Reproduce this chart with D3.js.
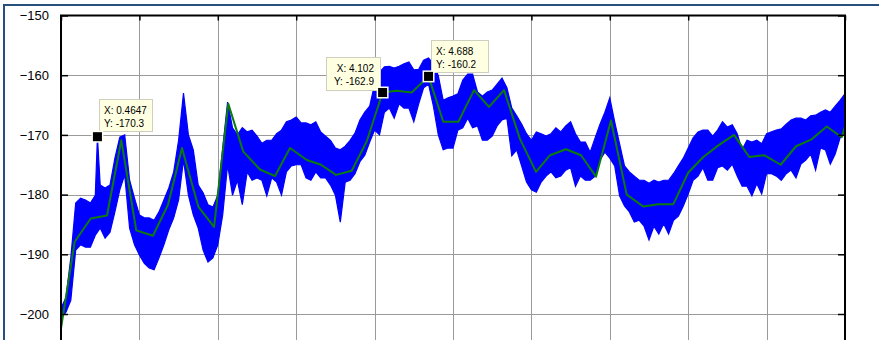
<!DOCTYPE html>
<html>
<head>
<meta charset="utf-8">
<script src="https://cdn.jsdelivr.net/npm/d3@7/dist/d3.min.js"></script>
<style>
  html, body { margin: 0; padding: 0; background: #fff; }
  svg { display: block; }
  text { font-family: "Liberation Sans", Arial, Helvetica, sans-serif; }
</style>
</head>
<body>
<svg id="chart" width="879" height="340"></svg>
<script>
// Axis ticks
const xTicks = [0, 1, 2, 3, 4, 5, 6, 7, 8, 9, 10];
const yTicks = [-150, -160, -170, -180, -190, -200];
const yDomain = [-210, -150];

// Raw spectrum: upper and lower excursion of the noisy trace per sample bin
const rawStep = 0.0625;
const rawHi = [
  -199.0, -197.3, -190.6, -181.4, -180.6, -180.9, -181.4, -180.1, -178.4, -178.9,
  -178.4, -173.9, -170.4, -170.0, -177.6, -180.6, -183.4, -183.9, -183.9, -184.3,
  -182.9, -180.9, -178.9, -176.2, -170.9, -163.0, -170.0, -172.5, -178.4, -179.7,
  -181.7, -182.1, -180.1, -172.2, -164.5, -168.8, -170.0, -168.8, -169.5, -169.2,
  -170.2, -171.4, -170.9, -170.9, -169.8, -169.2, -167.8, -167.5, -167.0, -168.0,
  -168.0, -168.3, -167.8, -169.5, -170.2, -170.9, -172.2, -172.5, -171.9, -170.9,
  -169.7, -167.5, -166.2, -165.2, -161.5, -159.5, -158.6, -158.5, -158.8, -158.5,
  -158.1, -157.8, -159.1, -159.0, -157.5, -157.1, -158.1, -160.1, -164.2, -163.8,
  -163.5, -163.1, -160.8, -159.8, -159.8, -162.8, -163.5, -162.8, -162.5, -161.5,
  -160.5, -162.1, -165.5, -166.8, -168.2, -169.8, -170.9, -169.5, -169.8, -170.2,
  -169.8, -168.8, -169.5, -168.5, -167.8, -169.8, -171.2, -171.2, -172.9, -170.5,
  -168.2, -166.2, -163.8, -167.8, -171.5, -175.2, -176.2, -176.9, -177.6, -177.6,
  -178.1, -177.6, -177.9, -177.6, -177.6, -176.5, -175.2, -173.9, -172.2, -170.5,
  -169.5, -169.2, -169.2, -170.2, -169.2, -167.8, -168.7, -168.3, -169.8, -172.5,
  -170.9, -171.2, -170.9, -171.5, -169.8, -169.5, -169.2, -169.0, -168.2, -167.5,
  -167.2, -167.2, -167.5, -166.8, -166.7, -166.2, -165.8, -166.2, -165.2, -164.2,
  -163.1
];
const rawLo = [
  -200.7, -199.7, -197.7, -189.3, -188.4, -188.8, -188.8, -186.8, -185.6, -187.3,
  -186.3, -182.9, -179.2, -176.7, -185.6, -188.4, -190.1, -191.5, -192.3, -192.6,
  -190.6, -188.4, -185.9, -183.9, -180.9, -174.2, -180.1, -183.4, -185.6, -189.3,
  -191.3, -190.6, -188.4, -183.4, -175.0, -180.1, -177.6, -181.7, -176.2, -177.6,
  -177.2, -177.6, -180.2, -177.2, -177.9, -180.1, -176.2, -175.2, -175.0, -175.0,
  -177.2, -177.6, -176.2, -177.2, -177.2, -178.4, -180.1, -184.6, -177.9, -177.6,
  -176.5, -174.5, -173.4, -171.2, -169.2, -170.0, -166.2, -165.5, -167.2, -164.8,
  -165.5, -165.5, -167.8, -164.8, -162.1, -161.5, -165.2, -170.0, -172.5, -172.2,
  -172.2, -169.2, -168.8, -167.2, -168.8, -168.5, -170.9, -170.9, -170.2, -168.5,
  -167.5, -167.2, -173.5, -172.5, -175.2, -177.9, -179.2, -179.6, -177.9, -176.9,
  -176.2, -177.2, -176.9, -175.9, -175.5, -178.6, -176.9, -177.6, -177.6, -176.9,
  -174.2, -172.9, -173.9, -175.2, -180.2, -181.9, -182.9, -184.6, -184.3, -185.3,
  -187.6, -185.3, -186.6, -184.9, -186.6, -184.3, -183.6, -181.9, -179.9, -177.6,
  -176.9, -175.5, -177.6, -177.6, -175.5, -175.2, -175.9, -174.9, -176.9, -178.6,
  -178.6, -180.2, -178.2, -179.9, -176.5, -176.5, -176.9, -177.6, -176.5, -175.9,
  -177.2, -174.9, -174.2, -173.2, -175.9, -172.2, -172.5, -174.9, -173.2, -170.5,
  -169.5
];
// Isolated spike picked out by the first data tip
const spikeX = [0.4647];
const spikeHi = [-170.3];
const spikeLo = [-186.3];

// Smoothed trace
const smoothX = [
  0.000, 0.175, 0.379, 0.587, 0.769, 0.960, 1.173, 1.365, 1.543, 1.751,
  1.952, 2.134, 2.325, 2.538, 2.730, 2.921, 3.134, 3.316, 3.508, 3.708,
  3.899, 4.102, 4.282, 4.473, 4.688, 4.876, 5.068, 5.268, 5.459, 5.651,
  5.855, 6.059, 6.237, 6.441, 6.633, 6.824, 7.015, 7.216, 7.427, 7.619,
  7.810, 8.001, 8.193, 8.380, 8.584, 8.779, 8.967, 9.180, 9.375, 9.566,
  9.767, 9.958, 10.000
];
const smoothY = [
  -202.4, -187.9, -184.0, -183.5, -170.9, -186.0, -186.9, -181.7, -172.2, -182.0,
  -185.4, -164.8, -172.8, -175.8, -176.9, -172.2, -174.2, -175.0, -176.7, -176.0,
  -171.1, -162.9, -162.6, -162.9, -160.2, -167.8, -167.8, -162.5, -165.3, -162.5,
  -170.7, -176.2, -173.4, -172.4, -173.4, -177.0, -167.6, -180.0, -182.0, -181.6,
  -181.6, -176.3, -173.7, -171.8, -170.0, -173.7, -173.4, -175.0, -171.9, -170.8,
  -168.6, -170.4, -168.6
];

// Data tips
const tipX = [0.4647, 4.102, 4.688];
const tipY = [-170.3, -162.9, -160.2];

const svg = d3.select("#chart");
const W = 879, H = 340;
const plot = { left: 61, right: 845, top: 15.5 };
const pxPerUnitY = 5.97;

const x = d3.scaleLinear().domain([0, 10]).range([plot.left, plot.right]);
const y = d3.scaleLinear().domain(yDomain)
  .range([plot.top + (yDomain[1] - yDomain[0]) * pxPerUnitY, plot.top]);

// Outer figure frame
svg.append("rect")
  .attr("x", 4).attr("y", 5)
  .attr("width", W + 20).attr("height", H + 20)
  .attr("fill", "#fff")
  .attr("stroke", "#27507e").attr("stroke-width", 2);

const bottom = y(yDomain[0]);

svg.append("defs").append("clipPath").attr("id", "clip")
  .append("rect")
  .attr("x", plot.left).attr("y", plot.top)
  .attr("width", plot.right - plot.left).attr("height", bottom - plot.top);

// Grid
const grid = svg.append("g");
grid.selectAll("line.gx")
  .data(xTicks.filter(t => t > 0 && t < 10))
  .join("line")
  .attr("x1", d => Math.round(x(d)) + 0.5).attr("x2", d => Math.round(x(d)) + 0.5)
  .attr("y1", plot.top).attr("y2", bottom)
  .attr("stroke", "#9a9a9a").attr("stroke-width", 1);
grid.selectAll("line.gy")
  .data(yTicks.filter(t => t < -150))
  .join("line")
  .attr("x1", plot.left).attr("x2", plot.right)
  .attr("y1", d => Math.round(y(d)) + 0.5).attr("y2", d => Math.round(y(d)) + 0.5)
  .attr("stroke", "#9a9a9a").attr("stroke-width", 1);

// Traces
const raw = rawHi.map((h, i) => ({ x: i * rawStep, hi: h, lo: rawLo[i] }));
spikeX.forEach((sx, i) => raw.push({ x: sx, hi: spikeHi[i], lo: spikeLo[i] }));
raw.sort((a, b) => a.x - b.x);

const traces = svg.append("g").attr("clip-path", "url(#clip)");
traces.append("path")
  .datum(raw)
  .attr("d", d3.area().x(d => x(d.x)).y0(d => y(d.lo)).y1(d => y(d.hi)))
  .attr("fill", "#0000ff")
  .attr("stroke", "#0000ff").attr("stroke-width", 1.2)
  .attr("stroke-linejoin", "miter");

const smooth = smoothX.map((v, i) => ({ x: v, y: smoothY[i] }));
traces.append("path")
  .datum(smooth)
  .attr("d", d3.line().x(d => x(d.x)).y(d => y(d.y)))
  .attr("fill", "none")
  .attr("stroke", "#0b7c0b").attr("stroke-width", 2)
  .attr("stroke-linejoin", "round");

// Axes box and ticks
const axes = svg.append("g");
axes.append("path")
  .attr("d", `M${plot.left},${bottom + 5}V${plot.top}H${plot.right}V${bottom + 5}`)
  .attr("fill", "none").attr("stroke", "#000").attr("stroke-width", 2);

const yAxisL = d3.axisLeft(y).tickValues(yTicks).tickSize(-7).tickPadding(12)
  .tickFormat(d3.format("d"));
const gL = axes.append("g").attr("transform", `translate(${plot.left},0)`).call(yAxisL);
gL.select(".domain").remove();
gL.selectAll(".tick line").attr("stroke", "#000").attr("stroke-width", 1.5);
gL.selectAll(".tick text")
  .attr("font-size", 13).attr("fill", "#000")
  .attr("font-family", "'Liberation Sans', Arial, sans-serif");

const yAxisR = d3.axisRight(y).tickValues(yTicks).tickSize(-7).tickFormat("");
const gR = axes.append("g").attr("transform", `translate(${plot.right},0)`).call(yAxisR);
gR.select(".domain").remove();
gR.selectAll(".tick line").attr("stroke", "#000").attr("stroke-width", 1.5);

const xAxisT = d3.axisTop(x).tickValues(xTicks).tickSize(-5).tickFormat("");
const gT = axes.append("g").attr("transform", `translate(0,${plot.top})`).call(xAxisT);
gT.select(".domain").remove();
gT.selectAll(".tick line").attr("stroke", "#000").attr("stroke-width", 1.5);

// Data tips
const tipPlacement = [
  { side: "right", dx: 2, dy: -6, w: 53, h: 32 },
  { side: "left", dx: -3, dy: -3, w: 54, h: 33 },
  { side: "right", dx: 2, dy: -4, w: 57, h: 32 }
];
const tips = svg.append("g");
tipX.forEach((tx, i) => {
  const p = tipPlacement[i];
  const mx = x(tx), my = y(tipY[i]);
  const bx = p.side === "right" ? mx + p.dx : mx + p.dx - p.w;
  const by = my + p.dy - p.h;
  const g = tips.append("g");
  g.append("rect")
    .attr("x", Math.round(bx) + 0.5).attr("y", Math.round(by) + 0.5)
    .attr("width", p.w).attr("height", p.h)
    .attr("fill", "#ffffe1").attr("stroke", "#cfcfc0").attr("stroke-width", 1);
  const tx0 = p.side === "right" ? Math.round(bx) + 5 : Math.round(bx) + p.w - 6;
  const anchor = p.side === "right" ? "start" : "end";
  g.append("text")
    .attr("x", tx0).attr("y", Math.round(by) + 15)
    .attr("text-anchor", anchor).attr("font-size", 10).attr("fill", "#000")
    .text(`X: ${tx}`);
  g.append("text")
    .attr("x", tx0).attr("y", Math.round(by) + 28)
    .attr("text-anchor", anchor).attr("font-size", 10).attr("fill", "#000")
    .text(`Y: ${tipY[i]}`);
  g.append("rect")
    .attr("x", mx - 6).attr("y", my - 6).attr("width", 12).attr("height", 12)
    .attr("fill", "#fffff0");
  g.append("rect")
    .attr("x", mx - 4.5).attr("y", my - 4.5).attr("width", 9).attr("height", 9)
    .attr("fill", "#000");
});
</script>
</body>
</html>
